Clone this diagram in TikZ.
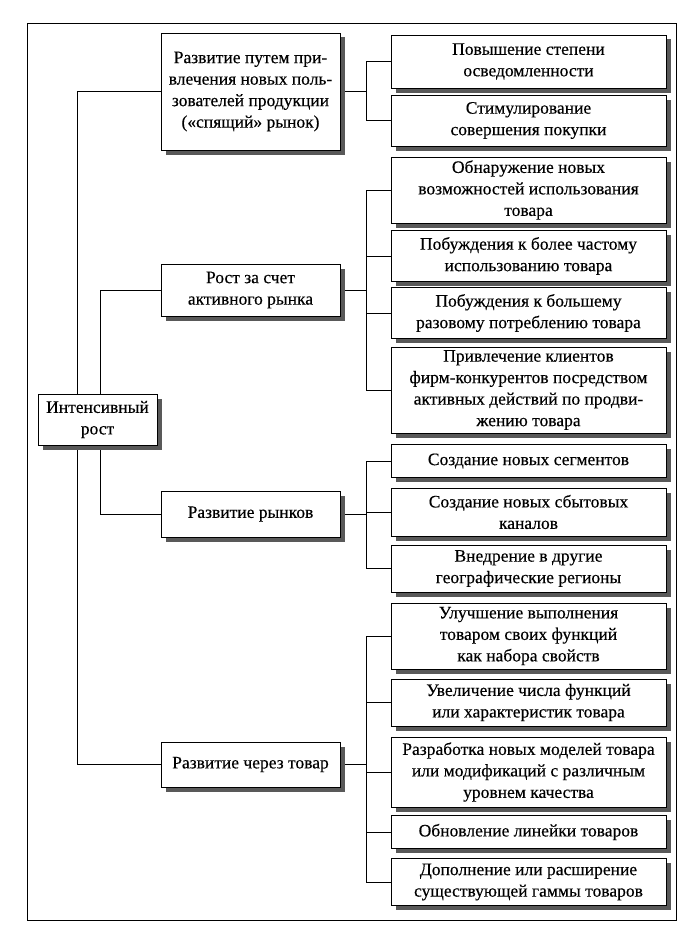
\documentclass[tikz,border=0pt]{standalone}
\usepackage{fontspec}
\setmainfont{Liberation Serif}[UprightFeatures={FakeBold=0.35}]
\usetikzlibrary{shadows}
\pgfdeclarelayer{paper}
\pgfdeclarelayer{bg}
\pgfsetlayers{paper,bg,main}
\begin{document}
\begin{tikzpicture}[x=1pt,y=-1pt,
  box/.style={draw, fill=white, line width=0.8pt, align=center, inner sep=0pt,
    font=\fontsize{17.5}{21.5}\selectfont,
    drop shadow={shadow xshift=4.5pt, shadow yshift=-4.5pt, fill=black!65, opacity=1}},
  lbox/.style={box, minimum width=179pt},
  rbox/.style={box, minimum width=275pt},
  conn/.style={draw, line width=0.8pt}]
\useasboundingbox (0,0) rectangle (689,934);
\begin{pgfonlayer}{paper}
  \fill[white] (0,0) rectangle (689,934);
\end{pgfonlayer}
\draw[line width=0.8pt] (27,23) rectangle (676,920);

% left column
\node[box, minimum width=119pt, minimum height=51pt] (I) at (97.5,419.5) {Интенсивный\\рост};
\node[lbox, minimum height=117pt] (B1) at (250.5,91.5) {Развитие путем при-\\влечения новых поль-\\зователей продукции\\(«спящий» рынок)};
\node[lbox, minimum height=52pt] (B2) at (250.5,290) {Рост за счет\\активного рынка};
\node[lbox, minimum height=46pt] (B3) at (250.5,514) {Развитие рынков};
\node[lbox, minimum height=45pt] (B4) at (250.5,764.5) {Развитие через товар};

% right column
\node[rbox, minimum height=53pt] (R1) at (528.5,61.5) {Повышение степени\\осведомленности};
\node[rbox, minimum height=51pt] (R2) at (528.5,120.5) {Стимулирование\\совершения покупки};
\node[rbox, minimum height=66pt] (R3) at (528.5,190) {Обнаружение новых\\возможностей использования\\товара};
\node[rbox, minimum height=51pt] (R4) at (528.5,256) {Побуждения к более частому\\использованию товара};
\node[rbox, minimum height=51pt] (R5) at (528.5,313) {Побуждения к большему\\разовому потреблению товара};
\node[rbox, minimum height=86pt] (R6) at (528.5,390) {Привлечение клиентов\\фирм-конкурентов посредством\\активных действий по продви-\\жению товара};
\node[rbox, minimum height=33pt] (R7) at (528.5,461) {Создание новых сегментов};
\node[rbox, minimum height=48pt] (R8) at (528.5,512) {Создание новых сбытовых\\каналов};
\node[rbox, minimum height=47pt] (R9) at (528.5,568.5) {Внедрение в другие\\географические регионы};
\node[rbox, minimum height=66pt] (R10) at (528.5,636) {Улучшение выполнения\\товаром своих функций\\как набора свойств};
\node[rbox, minimum height=47pt] (R11) at (528.5,702.5) {Увеличение числа функций\\или характеристик товара};
\node[rbox, minimum height=70pt] (R12) at (528.5,772) {Разработка новых моделей товара\\или модификаций с различным\\уровнем качества};
\node[rbox, minimum height=33pt] (R13) at (528.5,832) {Обновление линейки товаров};
\node[rbox, minimum height=47pt] (R14) at (528.5,882) {Дополнение или расширение\\существующей гаммы товаров};

\coordinate (jx) at (366,0);

\begin{pgfonlayer}{bg}
  % trunk lines from the intensive growth box
  \path[conn] (B1.west) -- ++(-83,0) |- (B4.west);
  \path[conn] (B2.west) -- ++(-60,0) |- (B3.west);
  % group 1
  \path[conn] (B1.east) -- (B1.east -| jx);
  \path[conn] (R1.west) -- (R1.west -| jx) |- (R2.west);
  % group 2
  \path[conn] (B2.east) -- (B2.east -| jx);
  \path[conn] (R3.west) -- (R3.west -| jx) |- (R6.west);
  \path[conn] (R4.west) -- (R4.west -| jx);
  \path[conn] (R5.west) -- (R5.west -| jx);
  % group 3
  \path[conn] (B3.east) -- (B3.east -| jx);
  \path[conn] (R7.west) -- (R7.west -| jx) |- (R9.west);
  \path[conn] (R8.west) -- (R8.west -| jx);
  % group 4
  \path[conn] (B4.east) -- (B4.east -| jx);
  \path[conn] (R10.west) -- (R10.west -| jx) |- (R14.west);
  \path[conn] (R11.west) -- (R11.west -| jx);
  \path[conn] (R12.west) -- (R12.west -| jx);
  \path[conn] (R13.west) -- (R13.west -| jx);
\end{pgfonlayer}
\end{tikzpicture}
\end{document}
